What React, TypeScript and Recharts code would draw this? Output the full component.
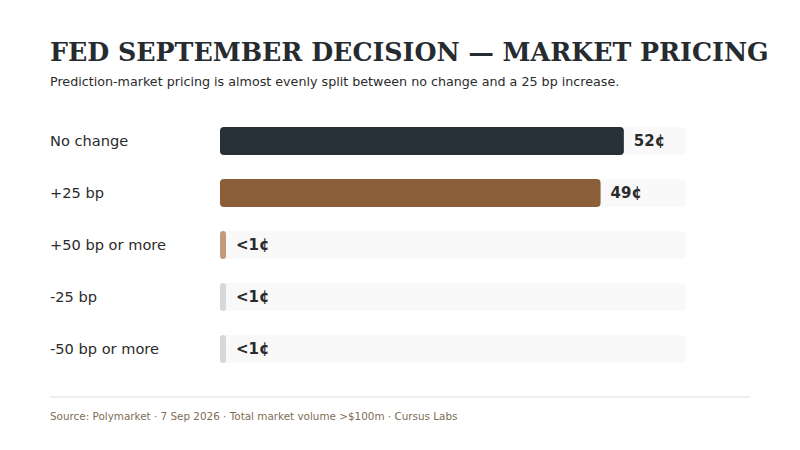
import React from "react";
import { BarChart, Bar, XAxis, YAxis, Cell, LabelList } from "recharts";

const categories = ["No change", "+25 bp", "+50 bp or more", "-25 bp", "-50 bp or more"];
const prices = [52, 49, 0.5, 0.5, 0.5];
const priceLabels = ["52¢", "49¢", "<1¢", "<1¢", "<1¢"];
const domainMax = 60;

const barColors = ["#263036", "#8b5e3a", "#c49a7c", "#d6d9db", "#d6d9db"];

const data = categories.map((c, i) => ({ name: c, value: prices[i], label: priceLabels[i] }));

const SANS = "'DejaVu Sans', sans-serif";

const CatTick = (props: any) => {
  const { y, payload } = props;
  return (
    <text x={50} y={y} dy={5} textAnchor="start" fontFamily={SANS} fontSize={14.6} fill="#2b2b2b">
      {payload.value}
    </text>
  );
};

const ValueLabel = (props: any) => {
  const { x, y, width, height, index } = props;
  return (
    <text
      x={x + width + 10}
      y={y + height / 2}
      dy={5}
      textAnchor="start"
      fontFamily={SANS}
      fontWeight="bold"
      fontSize={15}
      fill="#2b2b2b"
    >
      {priceLabels[index]}
    </text>
  );
};

export default function App() {
  return (
    <div style={{ position: "absolute", left: 0, top: 0, width: 800, height: 450, background: "#fff", overflow: "hidden" }}>
      <div
        style={{
          position: "absolute",
          left: 50,
          top: 36,
          fontFamily: "'DejaVu Serif', serif",
          fontWeight: "bold",
          fontSize: 25.3,
          color: "#262b2f",
          whiteSpace: "nowrap",
          lineHeight: "32px",
        }}
      >
        FED SEPTEMBER DECISION — MARKET PRICING
      </div>
      <div
        style={{
          position: "absolute",
          left: 50,
          top: 74,
          fontFamily: SANS,
          fontSize: 12.7,
          color: "#2b2b2b",
          whiteSpace: "nowrap",
          lineHeight: "16px",
        }}
      >
        Prediction-market pricing is almost evenly split between no change and a 25 bp increase.
      </div>
      <div style={{ position: "absolute", left: 0, top: 0 }}>
        <BarChart
          width={800}
          height={450}
          data={data}
          layout="vertical"
          margin={{ top: 115, right: 114, bottom: 75, left: 0 }}
          barSize={28}
        >
          <XAxis type="number" domain={[0, domainMax]} hide />
          <YAxis
            type="category"
            dataKey="name"
            width={220}
            axisLine={false}
            tickLine={false}
            tick={<CatTick />}
          />
          <Bar
            dataKey="value"
            isAnimationActive={false}
            radius={4}
            minPointSize={6}
            background={{ fill: "#f9f9f9", radius: 4 }}
          >
            {data.map((d, i) => (
              <Cell key={d.name} fill={barColors[i]} />
            ))}
            <LabelList dataKey="label" content={<ValueLabel />} />
          </Bar>
        </BarChart>
      </div>
      <div style={{ position: "absolute", left: 50, top: 396, width: 700, height: 2, background: "#eeeeee" }} />
      <div
        style={{
          position: "absolute",
          left: 50,
          top: 409,
          fontFamily: SANS,
          fontSize: 10.4,
          color: "#7d6e55",
          whiteSpace: "nowrap",
          lineHeight: "14px",
        }}
      >
        Source: Polymarket · 7 Sep 2026 · Total market volume &gt;$100m · Cursus Labs
      </div>
    </div>
  );
}
